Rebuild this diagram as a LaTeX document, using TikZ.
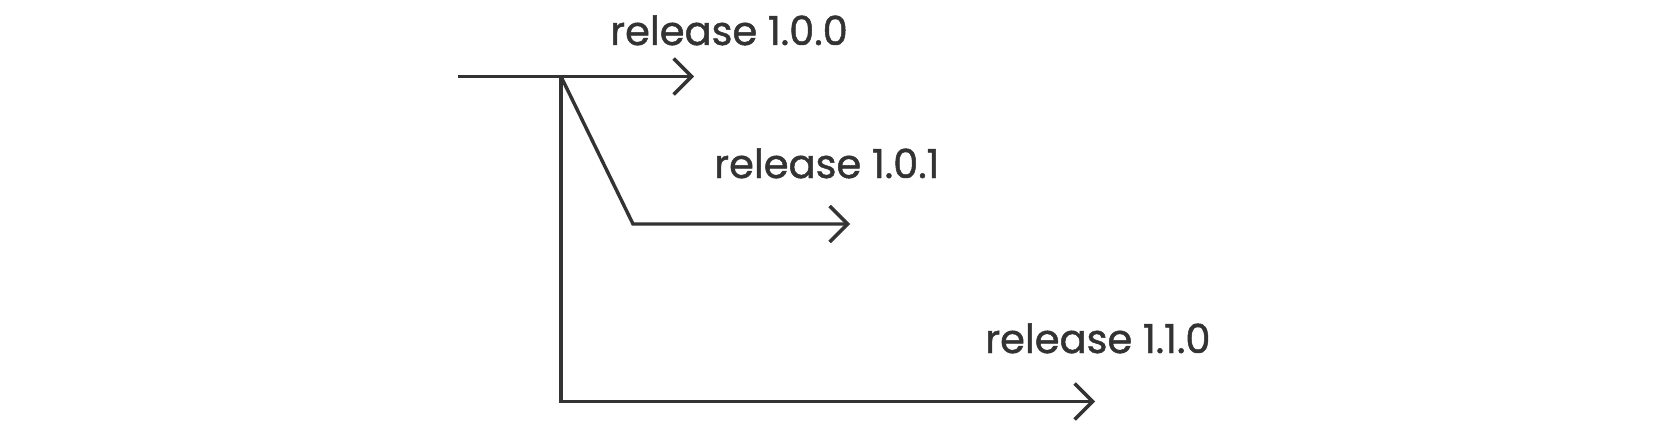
\documentclass[tikz,border=0pt]{standalone}
\usepackage{fontspec}
\setmainfont{Poppins}[FakeBold=1.2]
\usetikzlibrary{arrows.meta}
\definecolor{ink}{HTML}{333333}
\begin{document}
\begin{tikzpicture}[x=1pt,y=-1pt,
  flow/.style={draw=ink,line width=3.4pt,line join=miter,-{Straight Barb[length=18pt,width=36pt,line join=miter]}},
  lbl/.style={text=ink,font=\fontsize{40}{46}\selectfont,inner sep=0pt,anchor=base west}]
\useasboundingbox (0,0) rectangle (1665,428);
\coordinate (start) at (458,76.5);
\coordinate (branch) at (561,76.5);
\coordinate (end100) at (694,76.5);
\coordinate (bend) at (633,224);
\coordinate (end101) at (850,224);
\coordinate (corner) at (561,401.5);
\coordinate (end110) at (1095,401.5);
\draw[flow] (start) -- (end100);
\draw[flow] (branch) -- (bend) -- (end101);
\draw[flow] (branch) -- (corner) -- (end110);
\node[lbl] (l100) at (610,45) {release 1.0.0};
\node[lbl] (l101) at (714,178) {release 1.0.1};
\node[lbl] (l110) at (985,353) {release 1.1.0};
\end{tikzpicture}
\end{document}
